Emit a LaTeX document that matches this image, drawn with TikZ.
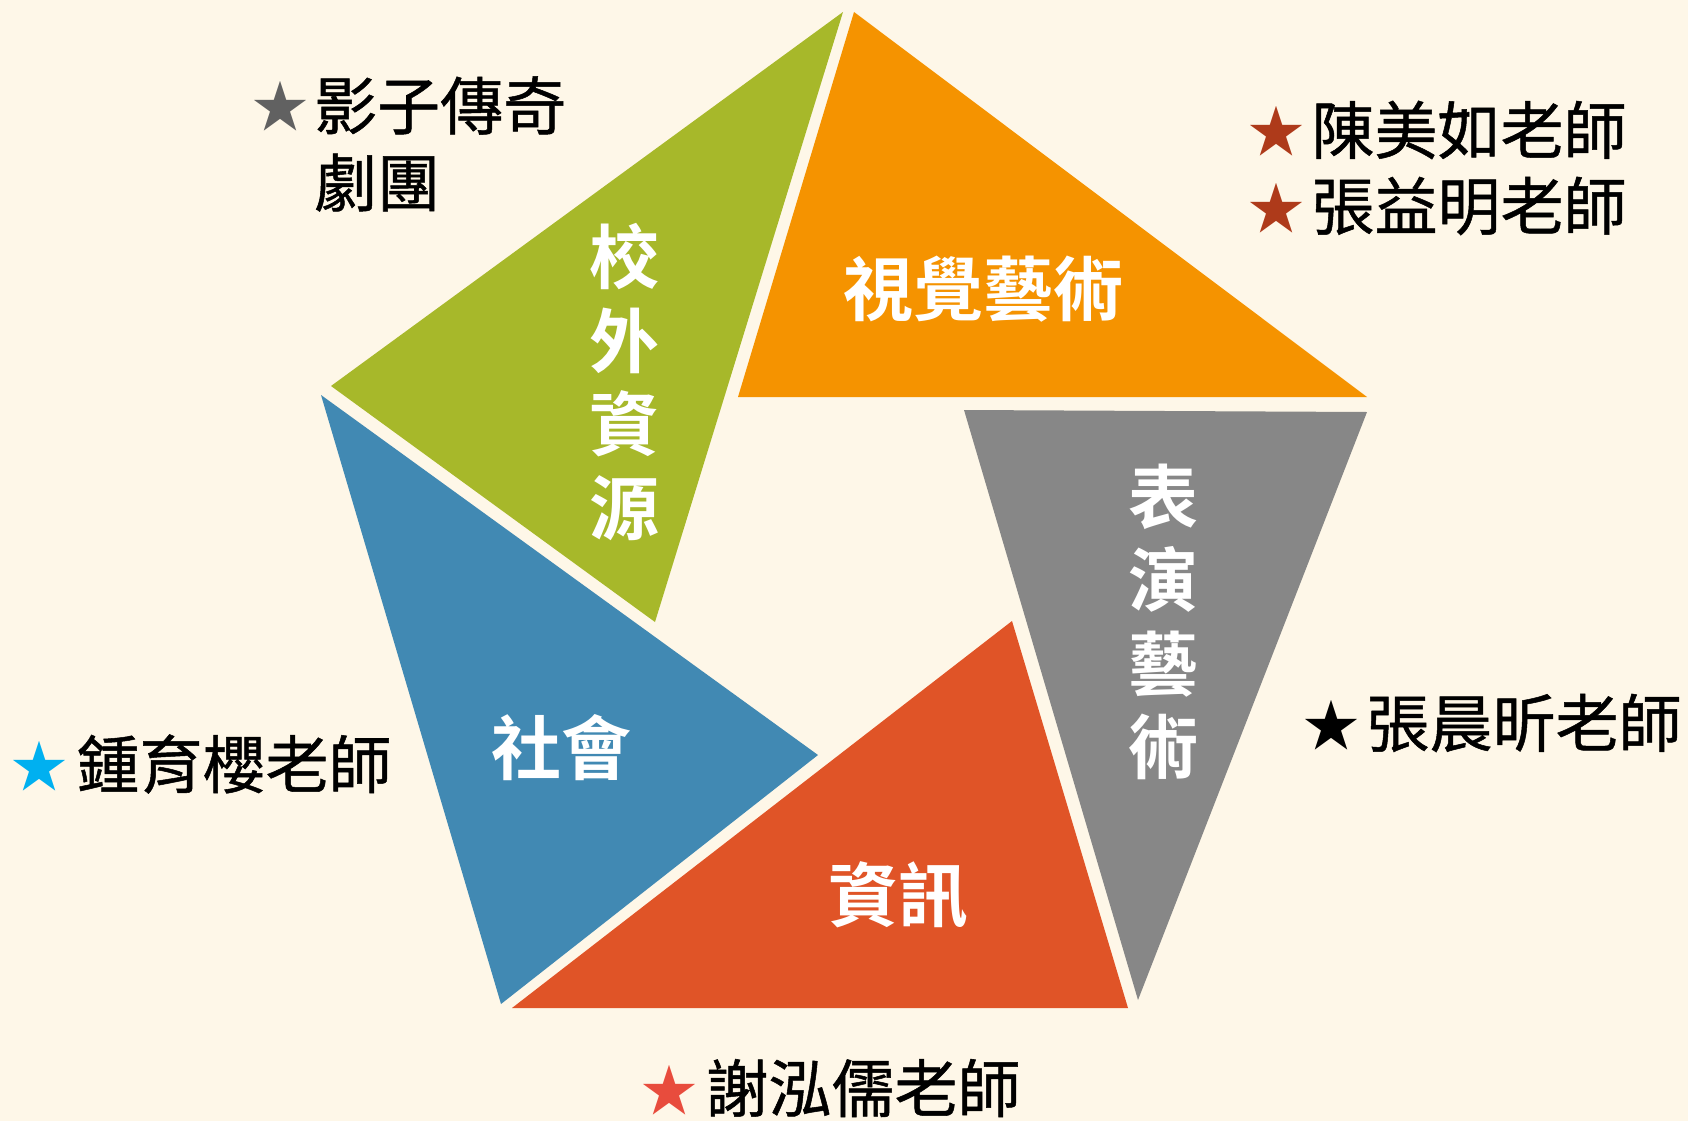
\documentclass[tikz,border=0pt]{standalone}
\usepackage{fontspec}
\usepackage{xcolor}
\newfontfamily\cjk[BoldFont={Noto Sans CJK TC Bold}]{Noto Sans CJK TC}
\newfontfamily\cjkmid[FakeBold=0.8]{Noto Sans CJK TC}
\definecolor{bgcream}{HTML}{FEF7E8}
\definecolor{pgreen}{HTML}{A7B82A}
\definecolor{porange}{HTML}{F59300}
\definecolor{pgray}{HTML}{878787}
\definecolor{pred}{HTML}{E05427}
\definecolor{pblue}{HTML}{4189B3}

\begin{document}
\begin{tikzpicture}[x=1pt,y=-1pt,
    inlabel/.style={text=white, inner sep=0pt, align=center,
        font=\cjk\bfseries\fontsize{70}{83.5}\selectfont},
    outlabel/.style={text=black, inner sep=0pt,
        font=\cjkmid\fontsize{63}{77}\selectfont},
    starmark/.style={inner sep=0pt, font=\cjk\fontsize{56}{56}\selectfont}
]
    % 背景
    \fill[bgcream] (0,0) rectangle (1688,1121);
    \useasboundingbox (0,0) rectangle (1688,1121);

    % 五塊三角形
    \fill[pgreen]  (843,12) -- (331,386) -- (655,622) -- cycle;
    \fill[porange] (854,12) -- (1367,397) -- (738,397) -- cycle;
    \fill[pgray]   (964,410) -- (1367,412) -- (1138,1000) -- cycle;
    \fill[pred]    (1012,621) -- (1128,1008) -- (512,1008) -- cycle;
    \fill[pblue]   (321,395) -- (818,755) -- (501,1004) -- cycle;

    \node[inlabel] (visual)  at (983,289) {視覺藝術};
    \node[inlabel] (outside) at (624,382) {校\\外\\資\\源};
    \node[inlabel] (perform) at (1163,622) {表\\演\\藝\\術};
    \node[inlabel] (society) at (561,748) {社會};
    \node[inlabel] (info)    at (898,895) {資訊};

    % 老師與團體
    \node[starmark, text=black!62] (star1) at (280,106) {★};
    \node[outlabel, align=left, anchor=west] (troupe) at (314,144) {影子傳奇\\劇團};
    \node[starmark, text={rgb,255:red,174;green,58;blue,26}] (star2) at (1276,131) {★};
    \node[outlabel] (chen) at (1469,130) {陳美如老師};
    \node[starmark, text={rgb,255:red,174;green,58;blue,26}] (star3) at (1276,208) {★};
    \node[outlabel] (zhangym) at (1469,206) {張益明老師};
    \node[starmark, text=black] (star4) at (1331,725) {★};
    \node[outlabel] (zhangcx) at (1524,723) {張晨昕老師};
    \node[starmark, text={rgb,255:red,0;green,176;blue,240}] (star5) at (40,766) {★};
    \node[outlabel] (zhong) at (234,764) {鍾育櫻老師};
    \node[starmark, text={rgb,255:red,232;green,76;blue,61}] (star6) at (669,1090) {★};
    \node[outlabel] (xie) at (863,1088) {謝泓儒老師};
\end{tikzpicture}
\end{document}
